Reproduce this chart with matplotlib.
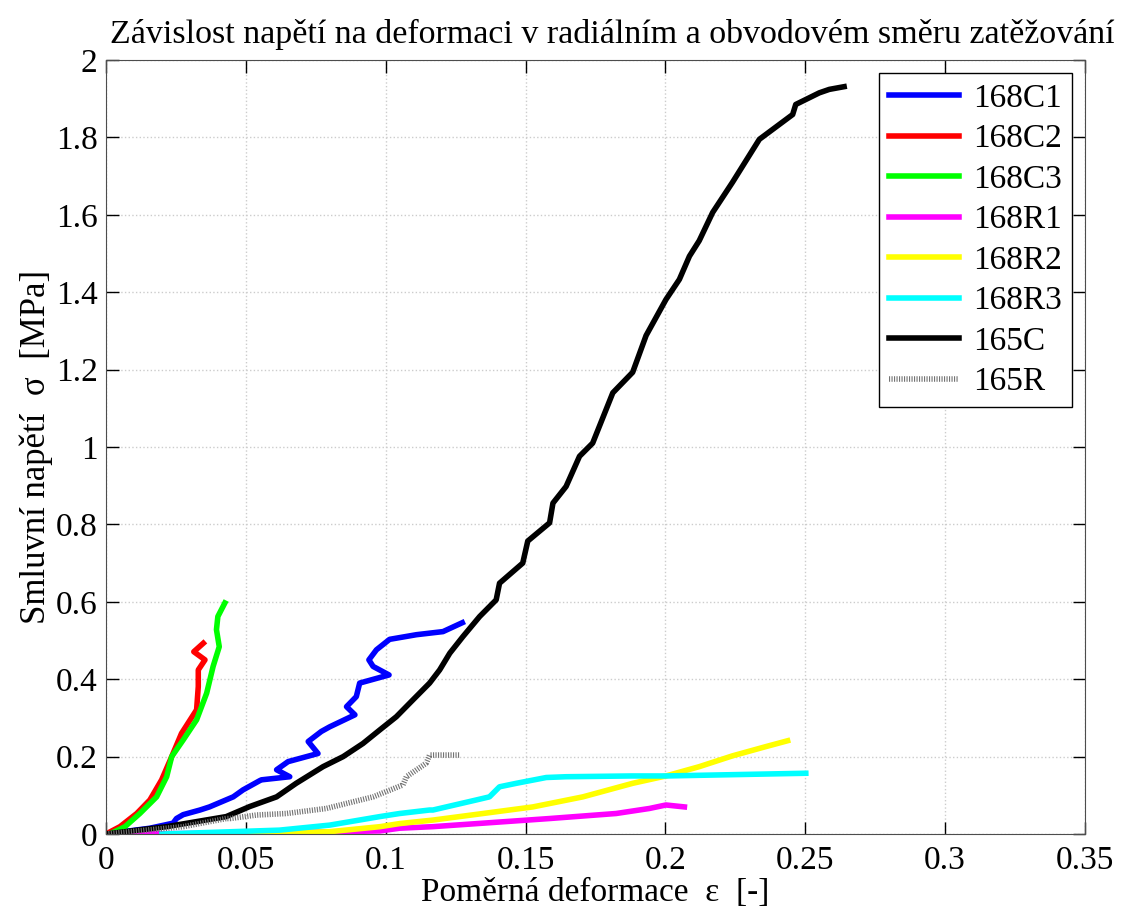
import matplotlib.pyplot as plt
from matplotlib.ticker import FuncFormatter, MultipleLocator

# 168C1 - blue
c1_x = [0, 0.0157, 0.024, 0.0252, 0.0276, 0.0336, 0.037, 0.0455, 0.049, 0.055, 0.0556, 0.0657,
        0.061, 0.0651, 0.0758, 0.0723, 0.077, 0.08, 0.089, 0.086, 0.0895, 0.0907, 0.1012,
        0.0955, 0.094, 0.0967, 0.1014, 0.111, 0.1205, 0.1274]
c1_y = [0, 0.015, 0.028, 0.04, 0.05, 0.062, 0.07, 0.096, 0.114, 0.138, 0.14, 0.148,
        0.166, 0.187, 0.208, 0.239, 0.265, 0.277, 0.308, 0.329, 0.355, 0.39, 0.411,
        0.433, 0.45, 0.476, 0.503, 0.515, 0.523, 0.546]

# 168C2 - red
c2_x = [0, 0.005, 0.011, 0.0157, 0.0199, 0.0235, 0.027, 0.0324, 0.033, 0.033, 0.0354, 0.0314, 0.0348]
c2_y = [0, 0.019, 0.053, 0.088, 0.14, 0.2, 0.26, 0.321, 0.381, 0.424, 0.45, 0.471, 0.493]

# 168C3 - green
c3_x = [0.0014, 0.0068, 0.0121, 0.0181, 0.0217, 0.0235, 0.0276, 0.0324, 0.036, 0.0383,
        0.0405, 0.0395, 0.040, 0.0425]
c3_y = [0, 0.019, 0.053, 0.096, 0.148, 0.2, 0.243, 0.295, 0.364, 0.433,
        0.484, 0.528, 0.562, 0.597]

# 168R1 - magenta
r1_x = [0.006, 0.06, 0.098, 0.105, 0.1169, 0.1348, 0.1586, 0.1824, 0.1943, 0.2002, 0.2068]
r1_y = [0, 0.003, 0.008, 0.015, 0.019, 0.028, 0.04, 0.053, 0.066, 0.075, 0.07]

# 168R2 - yellow
r2_x = [0.05, 0.08, 0.098, 0.105, 0.1169, 0.1348, 0.1526, 0.1705, 0.1883, 0.2002,
        0.2121, 0.224, 0.236, 0.2437]
r2_y = [0, 0.006, 0.019, 0.027, 0.036, 0.053, 0.07, 0.096, 0.131, 0.15,
        0.174, 0.202, 0.226, 0.241]

# 168R3 - cyan
r3_x = [0.02, 0.062, 0.08, 0.0979, 0.105, 0.1157, 0.1169, 0.1324, 0.1371, 0.1407, 0.1467,
        0.1574, 0.1645, 0.188, 0.2002, 0.236, 0.2502]
r3_y = [0, 0.01, 0.023, 0.045, 0.053, 0.062, 0.062, 0.088, 0.096, 0.122, 0.131,
        0.146, 0.148, 0.15, 0.15, 0.155, 0.157]

# 165C - black
k_x = [0, 0.0217, 0.043, 0.0514, 0.061, 0.068, 0.0776, 0.0848, 0.0919, 0.0979, 0.1038,
       0.1098, 0.1157, 0.1193, 0.1229, 0.1276, 0.1336, 0.1395, 0.1407, 0.149, 0.1508,
       0.1586, 0.1598, 0.1645, 0.1693, 0.174, 0.1812, 0.1883, 0.1931, 0.2002, 0.205,
       0.2086, 0.2121, 0.2169, 0.224, 0.2336, 0.2455, 0.2466, 0.255, 0.2586, 0.2639]
k_y = [0, 0.019, 0.045, 0.071, 0.096, 0.131, 0.174, 0.2, 0.234, 0.269, 0.303,
       0.347, 0.39, 0.424, 0.467, 0.51, 0.562, 0.605, 0.648, 0.7, 0.757,
       0.804, 0.855, 0.898, 0.976, 1.01, 1.14, 1.193, 1.288, 1.381, 1.433,
       1.493, 1.533, 1.606, 1.684, 1.795, 1.859, 1.885, 1.915, 1.924, 1.931]

# 165R - gray
g_x = [0, 0.0276, 0.043, 0.0443, 0.0538, 0.0645, 0.0788, 0.086, 0.0955, 0.1062, 0.1074,
       0.1145, 0.1157, 0.1264]
g_y = [0, 0.019, 0.04, 0.04, 0.049, 0.053, 0.066, 0.079, 0.096, 0.127, 0.148,
       0.183, 0.204, 0.204]

plt.rcParams['font.family'] = ['Liberation Serif', 'DejaVu Serif']

fig = plt.figure(figsize=(11.25, 9.17), dpi=100)
ax = fig.add_axes([0.0942, 0.0905, 0.8702, 0.8441])

lw = 4
ax.plot(c1_x, c1_y, color='#0000ff', lw=lw, label='168C1')
ax.plot(c2_x, c2_y, color='#ff0000', lw=lw, label='168C2')
ax.plot(c3_x, c3_y, color='#00ff00', lw=lw, label='168C3')
ax.plot(r1_x, r1_y, color='#ff00ff', lw=lw, label='168R1')
ax.plot(r2_x, r2_y, color='#ffff00', lw=lw, label='168R2')
ax.plot(r3_x, r3_y, color='#00ffff', lw=lw, label='168R3')
ax.plot(k_x, k_y, color='black', lw=lw, label='165C')
ax.plot(g_x, g_y, color='0.45', lw=lw, ls=(0, (0.2, 0.25)), label='165R')

ax.set_xlim(0, 0.35)
ax.set_ylim(0, 2)
ax.xaxis.set_major_locator(MultipleLocator(0.05))
ax.yaxis.set_major_locator(MultipleLocator(0.2))
fmt = FuncFormatter(lambda v, p: '%g' % round(v, 4))
ax.xaxis.set_major_formatter(fmt)
ax.yaxis.set_major_formatter(fmt)
ax.tick_params(direction='in', length=9, width=1, top=True, right=True, labelsize=24)
ax.tick_params(axis='x', pad=8)
ax.tick_params(axis='y', pad=6)
ax.grid(True, color='0.8', ls=':', lw=1)
for s in ax.spines.values():
    s.set_color('0.3')

ax.set_title('Závislost napětí na deformaci v radiálním a obvodovém směru zatěžování',
             fontsize=24.5, pad=12, x=0.517)
ax.set_xlabel('Poměrná deformace  ε  [-]', fontsize=24, labelpad=1)
ax.set_ylabel('Smluvní napětí  σ  [MPa]', fontsize=25, labelpad=2)

leg = ax.legend(loc='upper right', fontsize=24, fancybox=False, edgecolor='black',
                framealpha=1, handlelength=2.1, handletextpad=0.4, labelspacing=0.3,
                borderaxespad=0.4, borderpad=0.3)
leg.get_frame().set_linewidth(1)

fig.savefig('out.png', dpi=100)
